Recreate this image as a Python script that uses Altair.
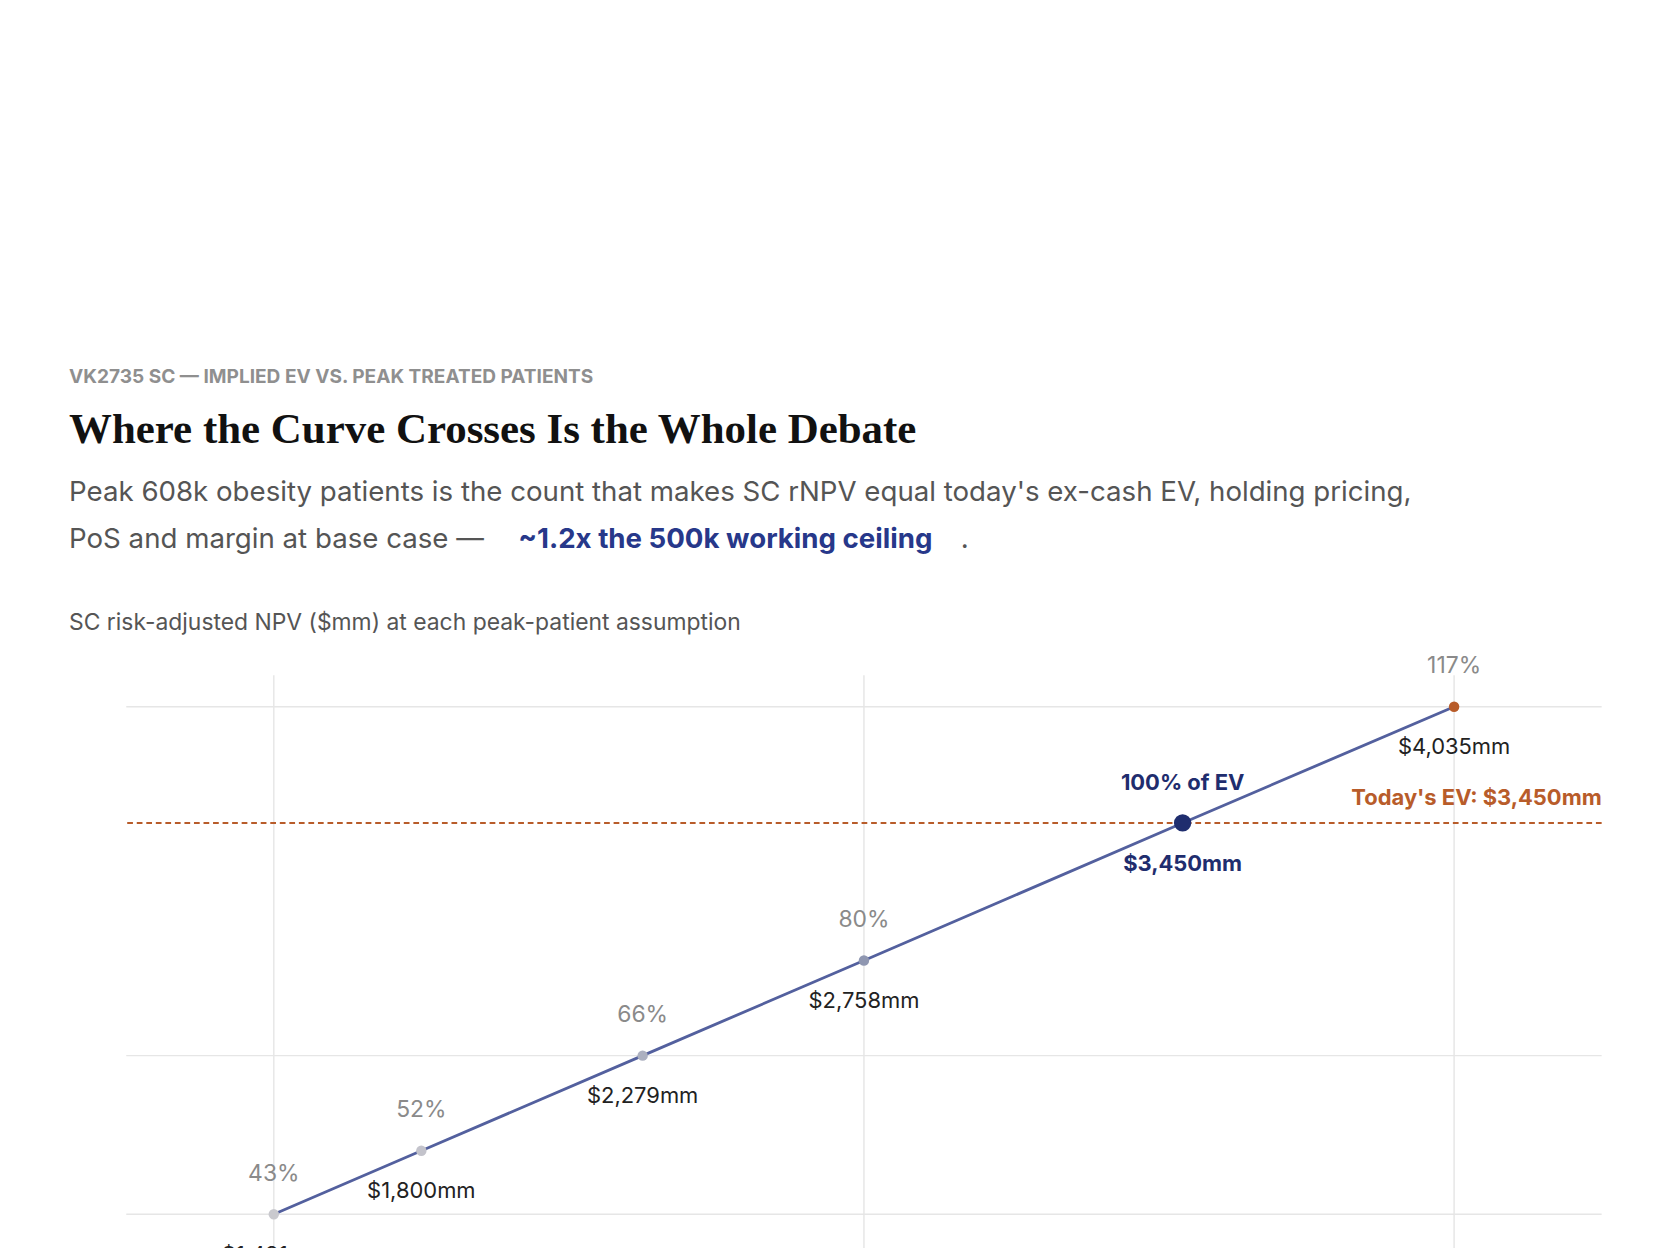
import pandas as pd
import altair as alt

patients = [300, 350, 425, 500, 608, 700]
npv = [1481, 1800, 2279, 2758, 3450, 4035]
pct_labels = ["43%", "52%", "66%", "80%", "100% of EV", "117%"]
npv_labels = ["$1,481mm", "$1,800mm", "$2,279mm", "$2,758mm", "$3,450mm", "$4,035mm"]
dot_colors = ["#c9c9ce", "#c3c3cb", "#acb0c0", "#8f97b1", "#1f2d6e", "#b85c2a"]
pct_colors = ["#8a8a8a", "#8a8a8a", "#8a8a8a", "#8a8a8a", "#1f2d6e", "#8a8a8a"]
val_colors = ["#222222", "#222222", "#222222", "#222222", "#1f2d6e", "#222222"]
ev = 3450
hgrid = [1481, 2279, 4035]
vgrid = [300, 500, 700]

FONT = "Inter"
W, H = 1547, 614
X0, Y0 = 71, 341  # plot origin on the page

df = pd.DataFrame({
    "p": patients, "npv": npv, "pct": pct_labels, "val": npv_labels,
    "dc": dot_colors, "pc": pct_colors, "vc": val_colors,
})
df["big"] = df["p"] == 608

xs = alt.Scale(domain=[250, 750], nice=False, zero=False)
ys = alt.Scale(domain=[1246, 4193], nice=False, zero=False)
X = alt.X("p:Q", scale=xs, axis=alt.Axis(
    values=patients, labelExpr="datum.value + 'k'", grid=False, domain=False,
    ticks=False, labelFont="DejaVu Sans Mono", labelFontSize=19, labelColor="#8a8a8a",
    labelPadding=60, title="Peak treated patients", titleFont=FONT, titleFontSize=23,
    titleFontWeight="normal", titleColor="#555555", titlePadding=14))
Xn = alt.X("p:Q", scale=xs)
Y = alt.Y("npv:Q", scale=ys, axis=None)

base = alt.Chart(df)
normal = base.transform_filter("!datum.big")
big = base.transform_filter("datum.big")

hg = alt.Chart(pd.DataFrame({"v": hgrid})).mark_rule(color="#e6e6e6", strokeWidth=1.5).encode(
    y=alt.Y("v:Q", scale=ys, axis=None))
vg = alt.Chart(pd.DataFrame({"v": vgrid})).mark_rule(color="#e6e6e6", strokeWidth=1.5).encode(
    x=alt.X("v:Q", scale=xs, axis=None))
evline = alt.Chart(pd.DataFrame({"v": [ev]})).mark_rule(
    color="#b85c2a", strokeDash=[6, 4], strokeWidth=2).encode(y=alt.Y("v:Q", scale=ys, axis=None))
evlab = alt.Chart(pd.DataFrame({"v": [ev], "t": ["Today's EV: $3,450mm"]})).mark_text(
    align="right", baseline="middle", dy=-26, font=FONT, fontSize=23, fontWeight="bold",
    color="#b85c2a").encode(x=alt.value(W), y=alt.Y("v:Q", scale=ys, axis=None), text="t:N")

line = base.mark_line(color="#53609e", strokeWidth=3).encode(x=X, y=Y)
dots = normal.mark_circle(opacity=1, size=120).encode(
    x=Xn, y=Y, color=alt.Color("dc:N", scale=None))
bigdot = big.mark_circle(opacity=1, size=330).encode(
    x=Xn, y=Y, color=alt.Color("dc:N", scale=None))


def labels(src, field, cfield, dy, weight, size):
    return src.mark_text(baseline="middle", dy=dy, font=FONT, fontSize=size,
                         fontWeight=weight).encode(
        x=Xn, y=Y, text=f"{field}:N", color=alt.Color(f"{cfield}:N", scale=None))


pct = labels(normal, "pct", "pc", -42, "normal", 24)
pctb = labels(big, "pct", "pc", -42, "bold", 23)
val = labels(normal, "val", "vc", 43, "normal", 23)
valb = labels(big, "val", "vc", 43, "bold", 23)

# page-level texts placed relative to the plot origin
texts = pd.DataFrame([
    (11, 29, "VK2735 SC — IMPLIED EV VS. PEAK TREATED PATIENTS", 20, "bold", "#8f8f8f", FONT, "left"),
    (11, 83, "Where the Curve Crosses Is the Whole Debate", 45, "bold", "#111111", "Liberation Serif", "left"),
    (11, 149, "Peak 608k obesity patients is the count that makes SC rNPV equal today's ex-cash EV, holding pricing,", 29, "normal", "#555555", FONT, "left"),
    (11, 198, "PoS and margin at base case — ", 29, "normal", "#555555", FONT, "left"),
    (482, 198, "~1.2x the 500k working ceiling", 29, "bold", "#27388a", FONT, "left"),
    (946, 198, ".", 29, "normal", "#555555", FONT, "left"),
    (11, 287, "SC risk-adjusted NPV ($mm) at each peak-patient assumption", 24, "normal", "#555555", FONT, "left"),
    (11, 1147, "SC rNPV scales linearly with peak treated patients off a fixed remaining-investment deduction; PoS, margin, pricing and WACC", 20, "normal", "#666666", FONT, "left"),
    (11, 1181, "held at base case (72.5% PoS, 45% margin, $1,086.37/mo WAC, 11.5% WACC). 608,000 is the reverse-solved patient count", 20, "normal", "#666666", FONT, "left"),
    (11, 1216, "where rNPV equals today's $3,450mm ex-cash EV (FD/TSM basis), not an independent forecast.", 20, "normal", "#666666", FONT, "left"),
    (1645, 1218, "CLINAPTIS RESEARCH", 21, "bold", "#8f8f8f", FONT, "right"),
], columns=["x", "y", "t", "fs", "fw", "c", "f", "al"])
texts["x"] -= X0
texts["y"] -= Y0

layers = []
for al in ["left", "right"]:
    for (fs, fw, f), g in texts[texts["al"] == al].groupby(["fs", "fw", "f"]):
        layers.append(alt.Chart(g).mark_text(
            align=al, baseline="middle", fontSize=int(fs), fontWeight=fw, font=f
        ).encode(x=alt.X("x:Q", scale=None), y=alt.Y("y:Q", scale=None), text="t:N",
                 color=alt.Color("c:N", scale=None)))

foot_rule = alt.Chart(pd.DataFrame({"y": [1098 - Y0]})).mark_rule(
    color="#d6d6d6", strokeWidth=2).encode(
    x=alt.value(11 - X0), x2=alt.value(1640 - X0), y=alt.Y("y:Q", scale=None))

chart = alt.layer(hg, vg, evline, line, dots, bigdot, pct, pctb, val, valb, evlab,
                  foot_rule, *layers).properties(
    width=W, height=H, background="white",
    padding={"left": X0 - 8, "top": Y0 - 8, "right": 30, "bottom": 300},
).configure_view(stroke=None)

chart.save("out.html", embed_options={"renderer": "svg", "actions": False})
